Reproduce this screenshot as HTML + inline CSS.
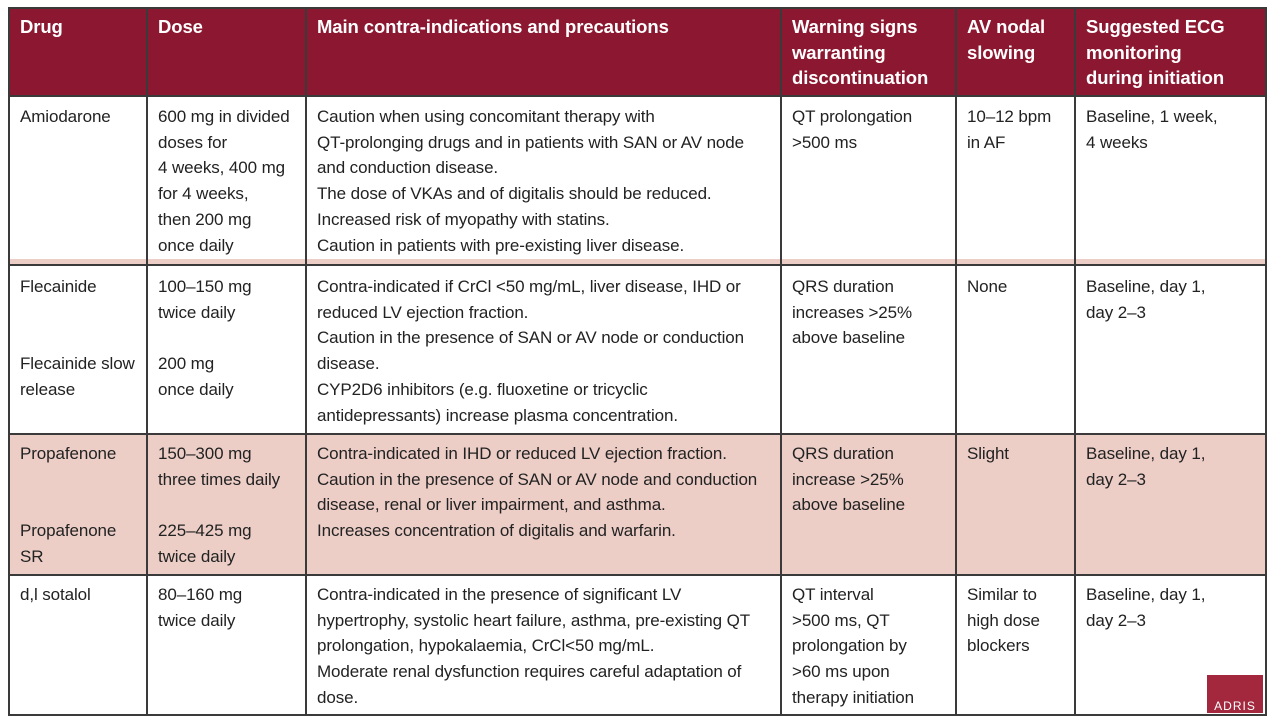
<!DOCTYPE html>
<html><head><meta charset="utf-8"><style>
body{margin:0;width:1272px;height:720px;background:#fff;position:relative;overflow:hidden;font-family:"Liberation Sans",sans-serif;}
.a{position:absolute}
.h{background:#8c1730}
.p{background:#edcec7}
.vl{position:absolute;width:2px;background:#3a3a3a}
.hl{position:absolute;height:2px;background:#3a3a3a}
.t{position:absolute;font-size:17px;line-height:25.7px;color:#222;white-space:nowrap;letter-spacing:-0.1px}
.th{position:absolute;font-size:18.5px;line-height:25.7px;color:#fff;font-weight:bold;white-space:nowrap;letter-spacing:-0.1px}
</style></head><body>
<div class="a h" style="left:8px;top:8px;width:1258px;height:88px"></div>
<div class="a p" style="left:8px;top:259px;width:1258px;height:5px"></div>
<div class="a p" style="left:8px;top:434px;width:1258px;height:141px"></div>
<div class="a" style="left:1207px;top:675px;width:56px;height:38px;background:#a3283e;color:#fff;font-size:12px;line-height:12px;padding-top:25px;box-sizing:border-box;text-align:center;letter-spacing:1px">ADRIS</div>

<div class="hl" style="left:8px;top:7px;width:1259px"></div>
<div class="hl" style="left:8px;top:95px;width:1259px"></div>
<div class="hl" style="left:8px;top:264px;width:1259px"></div>
<div class="hl" style="left:8px;top:433px;width:1259px"></div>
<div class="hl" style="left:8px;top:574px;width:1259px"></div>
<div class="hl" style="left:8px;top:714px;width:1259px"></div>
<div class="vl" style="left:8px;top:7px;height:709px"></div>
<div class="vl" style="left:146px;top:7px;height:709px"></div>
<div class="vl" style="left:305px;top:7px;height:709px"></div>
<div class="vl" style="left:780px;top:7px;height:709px"></div>
<div class="vl" style="left:955px;top:7px;height:709px"></div>
<div class="vl" style="left:1074px;top:7px;height:709px"></div>
<div class="vl" style="left:1265px;top:7px;height:709px"></div>

<div class="th" style="left:20px;top:14px">Drug</div>
<div class="th" style="left:158px;top:14px">Dose</div>
<div class="th" style="left:317px;top:14px">Main contra-indications and precautions</div>
<div class="th" style="left:792px;top:14px">Warning signs<br>warranting<br>discontinuation</div>
<div class="th" style="left:967px;top:14px">AV nodal<br>slowing</div>
<div class="th" style="left:1086px;top:14px">Suggested ECG<br>monitoring<br>during initiation</div>

<div class="t" style="left:20px;top:104px">Amiodarone</div>
<div class="t" style="left:158px;top:104px">600 mg in divided<br>doses for<br>4 weeks, 400 mg<br>for 4 weeks,<br>then 200 mg<br>once daily</div>
<div class="t" style="left:317px;top:104px">Caution when using concomitant therapy with<br>QT-prolonging drugs and in patients with SAN or AV node<br>and conduction disease.<br>The dose of VKAs and of digitalis should be reduced.<br>Increased risk of myopathy with statins.<br>Caution in patients with pre-existing liver disease.</div>
<div class="t" style="left:792px;top:104px">QT prolongation<br>&gt;500 ms</div>
<div class="t" style="left:967px;top:104px">10–12 bpm<br>in AF</div>
<div class="t" style="left:1086px;top:104px">Baseline, 1 week,<br>4 weeks</div>

<div class="t" style="left:20px;top:274px">Flecainide<br><br><br>Flecainide slow<br>release</div>
<div class="t" style="left:158px;top:274px">100–150 mg<br>twice daily<br><br>200 mg<br>once daily</div>
<div class="t" style="left:317px;top:274px">Contra-indicated if CrCl &lt;50 mg/mL, liver disease, IHD or<br>reduced LV ejection fraction.<br>Caution in the presence of SAN or AV node or conduction<br>disease.<br>CYP2D6 inhibitors (e.g. fluoxetine or tricyclic<br>antidepressants) increase plasma concentration.</div>
<div class="t" style="left:792px;top:274px">QRS duration<br>increases &gt;25%<br>above baseline</div>
<div class="t" style="left:967px;top:274px">None</div>
<div class="t" style="left:1086px;top:274px">Baseline, day 1,<br>day 2–3</div>

<div class="t" style="left:20px;top:441px">Propafenone<br><br><br>Propafenone<br>SR</div>
<div class="t" style="left:158px;top:441px">150–300 mg<br>three times daily<br><br>225–425 mg<br>twice daily</div>
<div class="t" style="left:317px;top:441px">Contra-indicated in IHD or reduced LV ejection fraction.<br>Caution in the presence of SAN or AV node and conduction<br>disease, renal or liver impairment, and asthma.<br>Increases concentration of digitalis and warfarin.</div>
<div class="t" style="left:792px;top:441px">QRS duration<br>increase &gt;25%<br>above baseline</div>
<div class="t" style="left:967px;top:441px">Slight</div>
<div class="t" style="left:1086px;top:441px">Baseline, day 1,<br>day 2–3</div>

<div class="t" style="left:20px;top:582px">d,l sotalol</div>
<div class="t" style="left:158px;top:582px">80–160 mg<br>twice daily</div>
<div class="t" style="left:317px;top:582px">Contra-indicated in the presence of significant LV<br>hypertrophy, systolic heart failure, asthma, pre-existing QT<br>prolongation, hypokalaemia, CrCl&lt;50 mg/mL.<br>Moderate renal dysfunction requires careful adaptation of<br>dose.</div>
<div class="t" style="left:792px;top:582px">QT interval<br>&gt;500 ms, QT<br>prolongation by<br>&gt;60 ms upon<br>therapy initiation</div>
<div class="t" style="left:967px;top:582px">Similar to<br>high dose<br>blockers</div>
<div class="t" style="left:1086px;top:582px">Baseline, day 1,<br>day 2–3</div>
</body></html>
